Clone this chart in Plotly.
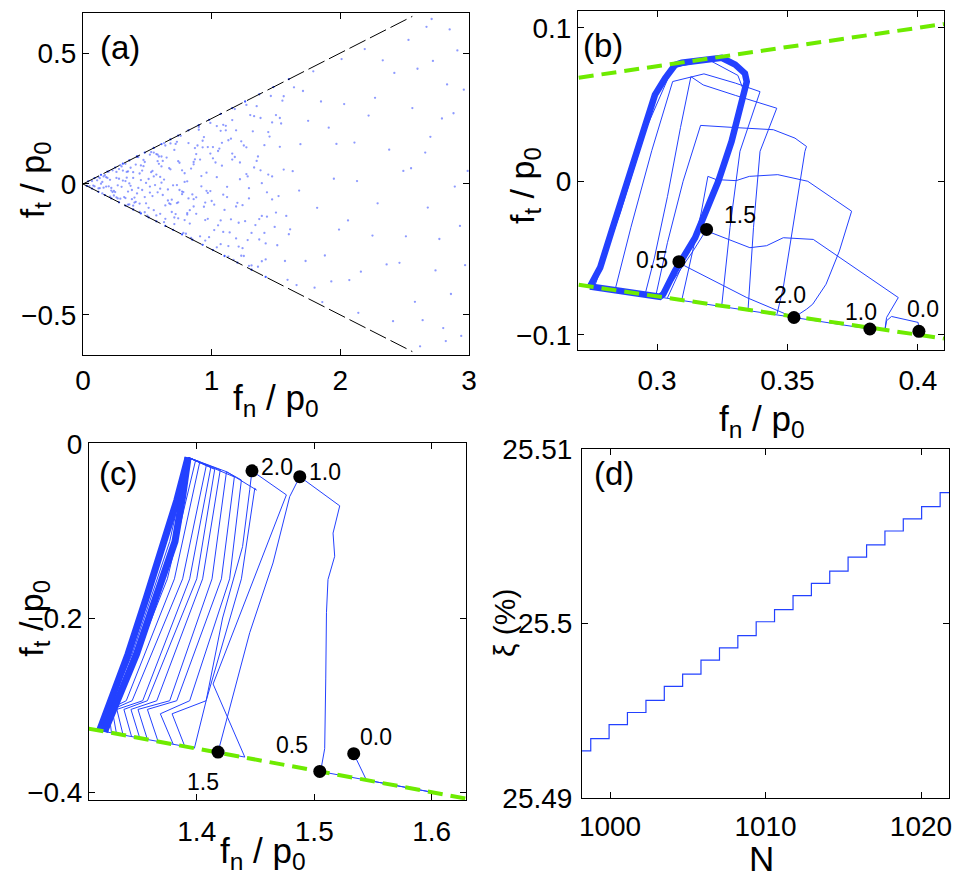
import plotly.graph_objects as go

# ---------------- data ----------------
# (a) contact forces of all contacts (read off the cloud)
a_fn = [0.07, 0.43, 0.91, 0.26, 1.18, 0.64, 1.47, 0.35, 0.82, 1.02,
        0.55, 1.31, 0.19, 0.73, 1.09, 0.48, 1.56, 0.29, 0.97, 0.68,
        1.24, 0.38, 0.86, 0.14, 1.39, 0.59, 1.12, 0.77, 0.23, 1.53,
        0.46, 0.94, 1.27, 0.33, 0.71, 1.43, 0.12, 1.06, 0.52, 0.88,
        1.36, 0.61, 0.21, 1.15, 0.79, 0.41, 1.58, 0.99, 0.31, 1.21,
        0.66, 0.17, 1.44, 0.84, 0.37, 1.08, 0.57, 1.29, 0.09, 0.74,
        1.51, 0.44, 0.93, 1.19, 0.27, 0.81, 1.35, 0.63, 1.04, 0.49,
        0.24, 1.13, 0.69, 1.42, 0.53, 0.96, 0.34, 1.26, 0.78, 1.01,
        1.55, 0.58, 0.13, 0.87, 1.22, 0.42, 1.37, 0.72, 0.28, 1.11,
        0.83, 0.36, 1.47, 0.62, 1.03, 0.22, 1.17, 0.51, 0.92, 1.32,
        0.47, 1.07, 0.76, 0.16, 1.41, 0.89, 0.56, 1.23, 0.32, 0.99,
        1.28, 0.67, 0.39, 1.16, 0.85, 1.59, 0.54, 0.11, 0.95, 0.71,
        0.30, 1.38, 0.82, 0.60, 1.05, 0.45, 1.25, 0.75, 1.49, 0.20,
        0.98, 0.64, 1.20, 0.40, 1.34, 0.79, 0.15, 1.10, 0.58, 0.90,
        1.45, 0.50, 0.73, 1.30, 0.26, 0.95, 1.14, 0.68, 0.35, 1.57,
        0.08, 0.18, 0.27, 0.12, 0.33, 0.05, 0.22, 0.41, 0.15, 0.37,
        0.52, 0.29, 0.61, 0.44, 0.70, 0.25, 0.57, 0.34, 0.48, 0.65,
        0.86, 0.55, 0.77, 0.39, 0.93, 0.63, 0.81, 0.46, 0.72, 0.97,
        1.04, 1.19, 0.88, 1.27, 1.09, 0.74, 1.37, 1.16, 0.60, 1.33,
        1.43, 1.22, 1.50, 1.07, 1.39, 1.29, 1.53, 1.13, 1.46, 1.01,
        0.58, 1.12, 0.33, 0.79, 1.41, 0.21, 0.95, 0.47, 1.28, 0.66,
        1.05, 0.39, 0.87, 1.52, 0.62, 0.28, 1.18, 0.74, 1.36, 0.51,
        0.18, 0.91, 1.24, 0.43, 0.68, 1.47, 0.36, 1.02, 0.81, 0.55,
        1.33, 0.71, 0.24, 1.09, 0.59, 0.97, 1.56, 0.44, 0.84, 1.21,
        0.49, 0.77, 1.15, 0.31, 1.39, 0.64, 0.90, 0.13, 1.27, 0.53,
        1.00, 0.42, 0.73, 1.44, 0.26, 0.86, 1.19, 0.61, 0.35, 1.07,
        0.67, 1.31, 0.52, 0.94, 0.20, 1.13, 0.78, 1.50, 0.40, 0.99,
        0.83, 0.57, 1.23, 0.38, 1.04, 0.69, 1.35, 0.16, 0.92, 1.60,
        0.45, 1.16, 0.80, 1.42, 0.63, 0.30, 1.08, 0.88, 0.54, 1.29,
        0.75, 1.25, 0.48, 0.96, 1.54, 0.60, 0.23, 1.11, 0.86, 1.38,
        1.63, 1.88, 1.71, 1.97, 1.66, 1.82, 1.75, 1.93, 1.61, 1.79,
        1.85, 1.68, 1.99, 1.73, 1.91, 1.64, 1.80, 1.95, 1.69, 1.86,
        2.07, 2.38, 2.19, 2.46, 2.03, 2.29, 2.14, 2.42, 2.25, 2.11,
        2.33, 2.16, 2.49, 2.22, 2.06, 2.41, 2.27, 2.13, 2.36, 2.01,
        2.58, 2.83, 2.66, 2.94, 2.53, 2.77, 2.71, 2.99, 2.62, 2.88,
        2.74, 2.56, 2.91, 2.68, 2.80, 2.97, 2.60, 2.85, 2.70, 2.93,
        2.51, 2.64, 2.79, 2.86, 2.96, 2.72, 2.55, 2.89, 2.67, 2.82]
a_ft = [0.011, -0.015, -0.200, 0.023, 0.286, -0.082, 0.029, -0.029, 0.156, -0.176,
        0.029, -0.311, 0.023, -0.004, 0.226, -0.050, 0.055, -0.056, 0.141, 0.155,
        -0.081, -0.058, 0.084, 0.001, -0.295, 0.105, -0.050, 0.052, -0.031, 0.252,
        0.051, -0.087, 0.038, 0.077, -0.128, -0.032, -0.017, 0.135, 0.112, -0.051,
        0.105, 0.105, -0.048, -0.135, 0.008, -0.068, -0.122, 0.233, 0.013, -0.239,
        -0.021, 0.034, 0.198, -0.206, 0.062, 0.070, -0.120, -0.016, -0.009, 0.087,
        -0.234, 0.040, 0.165, -0.086, -0.005, -0.111, 0.297, 0.017, -0.242, 0.004,
        -0.044, 0.167, -0.060, -0.288, 0.122, 0.043, 0.046, -0.142, -0.187, 0.098,
        0.318, -0.032, 0.022, 0.094, 0.018, 0.104, -0.134, -0.115, 0.020, 0.205,
        -0.100, -0.078, -0.059, 0.088, 0.082, -0.015, -0.290, -0.091, 0.030, 0.201,
        0.092, -0.139, 0.184, -0.014, 0.148, 0.147, -0.004, -0.274, -0.050, -0.027,
        -0.214, -0.074, 0.023, 0.244, -0.040, -0.366, 0.050, 0.014, -0.138, -0.153,
        0.067, 0.052, -0.055, -0.114, -0.158, 0.071, 0.147, -0.023, -0.164, -0.009,
        -0.203, 0.147, -0.072, -0.052, -0.157, -0.138, 0.008, -0.099, 0.087, 0.218,
        0.181, -0.121, -0.073, 0.263, 0.046, -0.071, -0.185, 0.056, -0.079, -0.294,
        -0.006, 0.026, -0.055, 0.027, 0.011, -0.008, -0.025, 0.074, -0.036, -0.007,
        -0.033, 0.072, 0.067, -0.075, -0.005, -0.031, 0.114, 0.024, -0.108, 0.101,
        0.075, -0.100, -0.029, 0.045, 0.140, -0.146, 0.010, -0.023, 0.153, -0.133,
        0.026, -0.208, 0.114, 0.302, -0.041, -0.070, -0.212, 0.116, -0.018, 0.259,
        -0.125, 0.082, 0.263, 0.203, 0.003, -0.313, 0.142, -0.237, 0.336, 0.141,
        0.112, -0.011, -0.054, 0.041, -0.187, 0.016, -0.216, 0.068, 0.029, -0.063,
        0.126, -0.083, 0.137, -0.046, -0.042, 0.057, 0.103, -0.131, -0.316, 0.019,
        -0.010, 0.093, -0.245, 0.103, -0.077, 0.235, 0.002, -0.079, -0.117, 0.120,
        0.063, 0.130, -0.026, -0.183, 0.077, -0.034, 0.335, -0.107, 0.059, -0.148,
        -0.074, -0.039, 0.173, 0.051, -0.122, -0.133, 0.207, -0.016, 0.140, 0.045,
        -0.065, -0.036, 0.161, 0.036, -0.051, -0.086, 0.205, 0.005, 0.048, -0.230,
        0.060, -0.187, -0.010, 0.179, 0.047, -0.277, -0.031, -0.109, -0.071, 0.116,
        -0.151, 0.036, 0.163, -0.023, 0.221, -0.107, 0.088, 0.029, -0.009, -0.192,
        0.015, 0.093, -0.190, -0.227, 0.156, -0.011, 0.157, -0.114, -0.046, -0.055,
        0.081, -0.275, 0.084, -0.026, 0.231, 0.027, 0.052, 0.222, -0.058, 0.252,
        0.049, -0.273, 0.355, 0.153, -0.386, -0.091, 0.241, -0.372, -0.173, 0.430,
        0.315, -0.025, -0.174, -0.294, 0.215, 0.369, -0.396, 0.020, 0.152, -0.451,
        -0.367, 0.131, 0.515, -0.301, 0.305, -0.074, -0.492, 0.424, -0.197, 0.158,
        0.472, -0.335, 0.050, 0.261, -0.139, -0.524, 0.329, 0.011, -0.307, 0.477,
        -0.45, 0.38, 0.12, -0.58, 0.55, -0.21, 0.63, 0.05, -0.62, 0.27,
        -0.33, 0.29, 0.51, -0.09, -0.55, -0.31, 0.44, 0.59, 0.18, -0.16,
        -0.20, -0.52, 0.25, -0.42, 0.36, 0.47, 0.06, -0.01, 0.60, -0.60]
# sliding contacts sitting on the Coulomb cone
a_edge_fn = [0.04, 0.09, 0.14, 0.19, 0.25, 0.31, 0.36, 0.42, 0.48, 0.55, 0.61, 0.68, 0.74, 0.82, 0.90, 0.98, 1.07, 1.16, 1.26, 1.37, 1.48, 1.60,
             0.03, 0.07, 0.12, 0.17, 0.22, 0.28, 0.33, 0.39, 0.45, 0.51, 0.57, 0.64, 0.70, 0.77, 0.85, 0.93, 1.01, 1.10, 1.20, 1.31, 1.42]
a_edge_ft = [0.01, 0.0225, 0.035, 0.0475, 0.0625, 0.0775, 0.09, 0.105, 0.12, 0.1375, 0.1525, 0.17, 0.185, 0.205, 0.225, 0.245, 0.2675, 0.29, 0.315, 0.3425, 0.37, 0.40,
             -0.0075, -0.0175, -0.03, -0.0425, -0.055, -0.07, -0.0825, -0.0975, -0.1125, -0.1275, -0.1425, -0.16, -0.175, -0.1925, -0.2125, -0.2325, -0.2525, -0.275, -0.30, -0.3275, -0.355]
a_cone_fn = [0, 2.56]
a_cone_up = [0, 0.64]
a_cone_dn = [0, -0.64]

# (b) one contact, force path
b_cone_fn = [0.27, 0.41]
b_cone_up = [0.0675, 0.1025]
b_cone_dn = [-0.0675, -0.1025]
b_main_fn = [0.2743, 0.2782, 0.2826, 0.2877, 0.2941, 0.2992, 0.3031, 0.3069, 0.3095, 0.3170, 0.3248, 0.3300, 0.3337, 0.3344, 0.3325, 0.3286, 0.3235, 0.3197, 0.3146, 0.3069, 0.3024, 0.3011, 0.2880, 0.2743]
b_main_ft = [-0.0686, -0.0563, -0.0325, -0.0044, 0.0303, 0.0563, 0.0671, 0.0758, 0.0773, 0.0792, 0.0805, 0.0760, 0.0703, 0.0649, 0.0519, 0.0260, 0.0000, -0.0151, -0.0368, -0.0584, -0.0736, -0.0753, -0.0720, -0.0686]
b_loops_fn = [
    [0.2839, 0.2900, 0.2980, 0.3060, 0.3180, 0.3300, 0.3395, 0.3360, 0.3318, 0.3280, 0.3248],
    [0.2954, 0.2990, 0.3040, 0.3090, 0.3130, 0.3177, 0.3300, 0.3459, 0.3395, 0.3370, 0.3349],
    [0.2995, 0.3040, 0.3100, 0.3167, 0.3300, 0.3446, 0.3529, 0.3573, 0.3567, 0.3520, 0.3484, 0.3460],
    [0.3095, 0.3130, 0.3170, 0.3195, 0.3227, 0.3303, 0.3354, 0.3463, 0.3578, 0.3746, 0.3699, 0.3648, 0.3597, 0.3574, 0.3525],
    [0.3011, 0.3060, 0.3140, 0.3190, 0.3209, 0.3356, 0.3420, 0.3484, 0.3599, 0.3925, 0.3880, 0.3874],
    [0.3011, 0.3050, 0.3084, 0.3107, 0.3344, 0.3497, 0.3525],
    [0.2743, 0.3525, 0.3816, 0.3874, 0.3880, 0.3899, 0.4001, 0.4004],
    [0.2760, 0.2860, 0.2960, 0.3060, 0.3200, 0.3310, 0.3330, 0.3260, 0.3150, 0.3040],
]
b_loops_ft = [
    [-0.0710, -0.0300, 0.0200, 0.0650, 0.0700, 0.0640, 0.0584, 0.0400, 0.0195, -0.0300, -0.0812],
    [-0.0739, -0.0500, -0.0100, 0.0350, 0.0682, 0.0628, 0.0560, 0.0476, 0.0195, -0.0300, -0.0837],
    [-0.0749, -0.0400, 0.0000, 0.0364, 0.0350, 0.0336, 0.0281, 0.0227, 0.0195, -0.0300, -0.0693, -0.0865],
    [-0.0774, -0.0500, -0.0200, 0.0032, 0.0011, 0.0004, 0.0032, 0.0043, 0.0000, -0.0195, -0.0455, -0.0671, -0.0801, -0.0833, -0.0888],
    [-0.0753, -0.0650, -0.0450, -0.0314, -0.0336, -0.0433, -0.0420, -0.0368, -0.0379, -0.0758, -0.0888, -0.0963],
    [-0.0753, -0.0640, -0.0524, -0.0552, -0.0758, -0.0866, -0.0888],
    [-0.0686, -0.0888, -0.0963, -0.0968, -0.0909, -0.0881, -0.0920, -0.0978],
    [-0.0690, -0.0200, 0.0350, 0.0740, 0.0790, 0.0690, 0.0600, 0.0150, -0.0350, -0.0760],
]
b_dot_fn = [0.3084, 0.3190, 0.3525, 0.3816, 0.4004]
b_dot_ft = [-0.0524, -0.0314, -0.0888, -0.0963, -0.0978]
b_lab = ["0.5", "1.5", "2.0", "1.0", "0.0"]
b_lab_fn = [0.2981, 0.3318, 0.3510, 0.3782, 0.4019]
b_lab_ft = [-0.0513, -0.0221, -0.0740, -0.0851, -0.0831]

# (c) another contact
c_cone_fn = [1.308, 1.629]
c_cone_dn = [-0.327, -0.4073]
c_bundle_fn = [
    [1.3174, 1.3300, 1.3415, 1.3570, 1.3728, 1.3830, 1.3926],
    [1.3215, 1.3350, 1.3487, 1.3650, 1.3815, 1.3880, 1.3926],
]
c_bundle_ft = [
    [-0.3290, -0.2850, -0.2415, -0.1770, -0.1120, -0.0650, -0.0156],
    [-0.3304, -0.2870, -0.2415, -0.1770, -0.1120, -0.0600, -0.0156],
]
c_thin_fn = [
    [1.3245, 1.3230, 1.3340, 1.3750, 1.3990, 1.3926],
    [1.3274, 1.3250, 1.3400, 1.3810, 1.4026, 1.3926],
    [1.3317, 1.3280, 1.3450, 1.3880, 1.4082, 1.3926],
    [1.3373, 1.3320, 1.3540, 1.3940, 1.4120, 1.3926],
    [1.3445, 1.3380, 1.3580, 1.4000, 1.4153, 1.3926],
    [1.3515, 1.3440, 1.3660, 1.4050, 1.4200, 1.3926],
    [1.3580, 1.3500, 1.3770, 1.4130, 1.4253, 1.3926],
    [1.3671, 1.3580, 1.3830, 1.4210, 1.4320, 1.3926],
    [1.3800, 1.3690, 1.3940, 1.4280, 1.4380, 1.4253],
    [1.3898, 1.3790, 1.4080, 1.4380, 1.4494, 1.4508, 1.4253],
    [1.3980, 1.4080, 1.4220, 1.4390, 1.4451, 1.4470],
    [1.3174, 1.3980],
    [1.3195, 1.3340, 1.3450, 1.3610, 1.3770, 1.3926],
]
c_thin_ft = [
    [-0.3311, -0.3050, -0.2950, -0.1550, -0.0190, -0.0156],
    [-0.3318, -0.3050, -0.2950, -0.1550, -0.0206, -0.0156],
    [-0.3329, -0.3050, -0.2950, -0.1550, -0.0244, -0.0156],
    [-0.3343, -0.3050, -0.2950, -0.1550, -0.0270, -0.0156],
    [-0.3361, -0.3050, -0.2950, -0.1550, -0.0293, -0.0156],
    [-0.3379, -0.3050, -0.2950, -0.1550, -0.0300, -0.0156],
    [-0.3395, -0.3050, -0.2950, -0.1550, -0.0320, -0.0156],
    [-0.3418, -0.3050, -0.2950, -0.1550, -0.0380, -0.0156],
    [-0.3450, -0.3100, -0.2950, -0.1550, -0.0415, -0.0320],
    [-0.3474, -0.3100, -0.2950, -0.1550, -0.0511, -0.0530, -0.0320],
    [-0.3495, -0.2950, -0.2000, -0.1180, -0.0526, -0.0310],
    [-0.3294, -0.3495],
    [-0.3299, -0.2760, -0.2415, -0.1770, -0.1120, -0.0156],
]
c_main_fn = [1.5336, 1.5444, 1.6068, 1.5047, 1.5061, 1.5089, 1.5098, 1.5104, 1.5117, 1.5174, 1.5160, 1.5217, 1.4877,
             1.4791, 1.4649, 1.4451, 1.4181, 1.4409, 1.4139, 1.4763, 1.4470]
c_main_ft = [-0.3558, -0.3861, -0.4017, -0.3762, -0.3711, -0.3500, -0.2700, -0.1939, -0.1558, -0.1291, -0.1025, -0.0712, -0.0377,
             -0.0606, -0.1368, -0.2168, -0.3540, -0.3597, -0.2758, -0.0586, -0.0310]
c_dot_fn = [1.4470, 1.4877, 1.4181, 1.5047, 1.5336]
c_dot_ft = [-0.0310, -0.0377, -0.3540, -0.3762, -0.3558]
c_lab = ["2.0", "1.0", "1.5", "0.5", "0.0"]
c_lab_fn = [1.4680, 1.5090, 1.4051, 1.4809, 1.5523]
c_lab_ft = [-0.0263, -0.0320, -0.3886, -0.3463, -0.3370]

# (d) percentage of sliding contacts vs cycle number
d_N = [998.2, 998.76, 999.94, 1001.12, 1002.31, 1003.49, 1004.67, 1005.85, 1007.04, 1008.22, 1009.40, 1010.58,
       1011.77, 1012.95, 1014.13, 1015.31, 1016.50, 1017.68, 1018.86, 1020.04, 1021.23, 1021.8]
d_xi = [25.4927, 25.4934, 25.4942, 25.4949, 25.4956, 25.4964, 25.4971, 25.4979, 25.4986, 25.4993, 25.5001,
        25.5008, 25.5016, 25.5023, 25.5030, 25.5038, 25.5045, 25.5053, 25.5060, 25.5067, 25.5075, 25.5075]

# ---------------- styling ----------------
FONT = "Liberation Sans, Arial, sans-serif"
BLUE = "rgb(35,65,255)"
GREEN = "rgb(110,235,0)"
W, H = 969, 871   # page has an 8px body margin

fig = go.Figure()

# (a)
fig.add_trace(go.Scatter(x=a_fn, y=a_ft, mode="markers", xaxis="x", yaxis="y",
                         marker=dict(size=2.3, color="rgba(80,100,255,0.65)")))
fig.add_trace(go.Scatter(x=a_edge_fn, y=a_edge_ft, mode="markers", xaxis="x", yaxis="y",
                         marker=dict(size=2.3, color="rgba(40,70,255,0.9)")))
for up in (a_cone_up, a_cone_dn):
    fig.add_trace(go.Scatter(x=a_cone_fn, y=up, mode="lines", xaxis="x", yaxis="y",
                             line=dict(color="black", width=1, dash="18px,5px")))

# (b)
for fx, fy in zip(b_loops_fn, b_loops_ft):
    fig.add_trace(go.Scatter(x=fx, y=fy, mode="lines", xaxis="x2", yaxis="y2",
                             line=dict(color=BLUE, width=1)))
fig.add_trace(go.Scatter(x=b_main_fn, y=b_main_ft, mode="lines", xaxis="x2", yaxis="y2",
                         line=dict(color=BLUE, width=6.5)))
for up in (b_cone_up, b_cone_dn):
    fig.add_trace(go.Scatter(x=b_cone_fn, y=up, mode="lines", xaxis="x2", yaxis="y2",
                             line=dict(color=GREEN, width=4, dash="15px,8px")))
fig.add_trace(go.Scatter(x=b_dot_fn, y=b_dot_ft, mode="markers", xaxis="x2", yaxis="y2",
                         marker=dict(size=13, color="black")))

# (c)
for fx, fy in zip(c_thin_fn, c_thin_ft):
    fig.add_trace(go.Scatter(x=fx, y=fy, mode="lines", xaxis="x3", yaxis="y3",
                             line=dict(color=BLUE, width=1)))
for fx, fy in zip(c_bundle_fn, c_bundle_ft):
    fig.add_trace(go.Scatter(x=fx, y=fy, mode="lines", xaxis="x3", yaxis="y3",
                             line=dict(color=BLUE, width=7)))
fig.add_trace(go.Scatter(x=c_main_fn, y=c_main_ft, mode="lines", xaxis="x3", yaxis="y3",
                         line=dict(color=BLUE, width=1)))
fig.add_trace(go.Scatter(x=c_cone_fn, y=c_cone_dn, mode="lines", xaxis="x3", yaxis="y3",
                         line=dict(color=GREEN, width=4, dash="15px,8px")))
fig.add_trace(go.Scatter(x=c_dot_fn, y=c_dot_ft, mode="markers", xaxis="x3", yaxis="y3",
                         marker=dict(size=13, color="black")))

# (d)
fig.add_trace(go.Scatter(x=d_N, y=d_xi, mode="lines", line_shape="hv", xaxis="x4", yaxis="y4",
                         line=dict(color=BLUE, width=1.2)))


def ax(dom, rng, tickvals, ticktext, anchor, standoff):
    return dict(domain=dom, range=rng, tickvals=tickvals, ticktext=ticktext, anchor=anchor,
                showline=True, linecolor="black", linewidth=1, mirror="ticks", automargin=False,
                ticks="inside", ticklen=6, tickcolor="black", showgrid=False, zeroline=False,
                tickfont=dict(family=FONT, size=28, color="black"), ticklabelstandoff=standoff)


fig.update_layout(
    width=W, height=H, margin=dict(l=0, r=0, t=0, b=0),
    paper_bgcolor="white", plot_bgcolor="white", showlegend=False,
    xaxis=ax([0.0774, 0.4757], [0, 3], [0, 1, 2, 3], ["0", "1", "2", "3"], "y", 0),
    yaxis=ax([0.6016, 0.9943], [-0.653, 0.653], [-0.5, 0, 0.5], ["\u22120.5", "0", "0.5"], "x", 0),
    xaxis2=ax([0.5882, 0.9659], [0.2697, 0.41], [0.3, 0.35, 0.4], ["0.3", "0.35", "0.4"], "y2", 5),
    yaxis2=ax([0.6073, 0.9966], [-0.11, 0.111], [-0.1, 0, 0.1], ["\u22120.1", "0", "0.1"], "x2", 0),
    xaxis3=ax([0.0836, 0.4727], [1.3083, 1.6292], [1.4, 1.5, 1.6], ["1.4", "1.5", "1.6"], "y3", 6),
    yaxis3=ax([0.0907, 0.5006], [-0.409, 0.001], [-0.4, -0.2, 0], ["\u22120.4", "\u22120.2", "0"], "x3", 0),
    xaxis4=ax([0.5924, 0.9711], [998.2, 1021.8], [1000, 1010, 1020], ["1000", "1010", "1020"], "y4", 3),
    yaxis4=ax([0.0930, 0.4937], [25.49, 25.51], [25.49, 25.5, 25.51], ["25.49", "25.5", "25.51"], "x4", 3),
)

# point labels on the trajectories
for lab, x, y in zip(b_lab, b_lab_fn, b_lab_ft):
    fig.add_annotation(text=lab, x=x, y=y, xref="x2", yref="y2", showarrow=False,
                       font=dict(family=FONT, size=23, color="black"))
for lab, x, y in zip(c_lab, c_lab_fn, c_lab_ft):
    fig.add_annotation(text=lab, x=x, y=y, xref="x3", yref="y3", showarrow=False,
                       font=dict(family=FONT, size=23, color="black"))

# panel letters and axis titles
texts = [
    ("(a)", 0.1156, 0.9552, 0, 33), ("(b)", 0.6140, 0.9575, 0, 33),
    ("(c)", 0.1135, 0.4661, 0, 33), ("(d)", 0.6254, 0.4661, 0, 33),
    ("f<sub>n</sub> / p<sub>0</sub>", 0.2766, 0.5500, 0, 35),
    ("f<sub>n</sub> / p<sub>0</sub>", 0.7781, 0.5258, 0, 35),
    ("f<sub>n</sub> / p<sub>0</sub>", 0.2632, 0.0300, 0, 35),
    ("N", 0.7771, 0.0230, 0, 35),
    ("f<sub>t</sub> / p<sub>0</sub>", 0.0270, 0.8025, -90, 34),
    ("f<sub>t</sub> / p<sub>0</sub>", 0.5335, 0.7968, -90, 34),
    ("f<sub>t</sub> / p<sub>0</sub>", 0.0265, 0.2997, -90, 34),
    ("\u03be (%)", 0.5119, 0.2939, -90, 30),
]
for t, x, y, ang, sz in texts:
    fig.add_annotation(text=t, x=x, y=y, xref="paper", yref="paper", showarrow=False,
                       textangle=ang, xanchor="center", yanchor="middle",
                       font=dict(family=FONT, size=sz, color="black"))

fig.write_html("out.html")
